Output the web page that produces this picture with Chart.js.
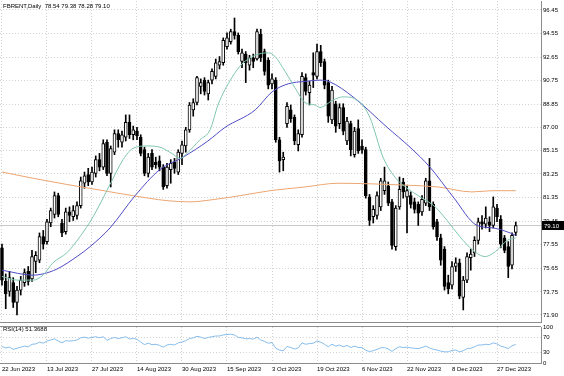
<!DOCTYPE html>
<html>
<head>
<meta charset="utf-8">
<title>FBRENT Daily</title>
<script src="https://cdn.jsdelivr.net/npm/chart.js@4.4.1/dist/chart.umd.min.js"></script>
<style>
  html, body { margin: 0; padding: 0; background: #fff; }
  #wrap { position: relative; width: 564px; height: 376px; overflow: hidden; }
  #priceBox { position: absolute; left: 0; top: 0; width: 564px; height: 323px; }
  #rsiBox { position: absolute; left: 0; top: 323px; width: 564px; height: 53px; }
  .cap { position: absolute; left: 3px; font: 6px "Liberation Sans", Arial, sans-serif; color: #000; white-space: pre; line-height: 7px; }
</style>
</head>
<body>
<div id="wrap">
  <div id="priceBox"><canvas id="priceChart"></canvas></div>
  <div id="rsiBox"><canvas id="rsiChart"></canvas></div>
  <div class="cap" style="top:3px">FBRENT,Daily  78.54 79.38 78.28 79.10</div>
  <div class="cap" style="top:326px">RSI(14) 51.3688</div>
</div>
<script>
// FBRENT daily candles, one entry per bar
const opens = [
  77.3, 74.6, 73.8, 74.5, 72.9, 73.9, 74.5, 75.4, 74.8, 76.2,
  76.3, 78.2, 77.8, 79.3, 80.0, 81.5, 79.3, 78.6, 80.2, 79.8,
  79.9, 80.7, 82.5, 83.2, 82.6, 83.3, 84.4, 83.8, 85.8, 83.3,
  85.0, 86.5, 85.8, 86.2, 87.4, 86.4, 86.7, 86.2, 85.2, 83.3,
  84.9, 84.2, 84.3, 83.8, 82.3, 83.6, 84.2, 83.4, 84.9, 85.5,
  86.8, 88.4, 89.0, 90.3, 90.8, 89.7, 90.8, 91.1, 92.0, 92.2,
  93.5, 93.9, 94.7, 94.4, 92.3, 92.9, 92.0, 92.6, 92.5, 94.5,
  93.1, 92.4, 90.5, 90.8, 86.0, 84.4, 87.3, 88.4, 87.8, 85.6,
  86.4, 91.0, 89.8, 91.4, 91.1, 93.1, 92.3, 90.6, 87.6, 88.9,
  87.3, 88.6, 85.9, 87.3, 84.8, 86.9, 85.5, 85.2, 81.4, 79.8,
  79.9, 80.6, 81.9, 82.3, 81.0, 77.4, 80.6, 82.6, 81.4, 81.5,
  81.0, 80.8, 80.2, 80.9, 82.7, 80.8, 79.4, 78.1, 77.2, 74.5,
  74.3, 75.8, 76.1, 73.3, 74.7, 76.5, 76.9, 77.9, 79.4, 79.2,
  79.4, 79.1, 80.5, 79.6, 78.1, 77.4, 75.9, 78.54
];
const highs = [
  77.6, 75.2, 75.4, 74.9, 74.2, 75.0, 75.6, 75.8, 77.1, 77.0,
  78.5, 78.7, 79.6, 80.5, 81.8, 81.7, 79.6, 80.5, 80.6, 80.7,
  81.0, 83.0, 83.4, 83.7, 83.8, 84.7, 84.9, 86.0, 86.0, 85.5,
  86.8, 86.8, 86.7, 88.0, 88.0, 87.1, 87.0, 86.4, 85.4, 84.9,
  85.2, 84.6, 84.7, 84.0, 84.1, 84.4, 84.5, 85.2, 85.9, 87.0,
  89.0, 89.3, 91.1, 90.9, 91.0, 90.8, 91.7, 92.5, 92.7, 94.2,
  94.6, 94.9, 95.8, 94.6, 93.3, 93.1, 92.8, 92.9, 94.9, 94.9,
  93.3, 92.6, 91.3, 91.0, 86.2, 85.0, 89.0, 88.8, 88.0, 86.8,
  91.4, 91.3, 90.7, 93.0, 93.7, 93.6, 92.5, 90.8, 90.3, 89.1,
  88.9, 88.9, 87.8, 87.5, 87.0, 87.6, 86.0, 85.4, 81.6, 80.7,
  81.8, 82.9, 83.8, 82.6, 81.2, 80.7, 83.0, 82.9, 82.3, 81.8,
  81.3, 81.0, 81.5, 82.9, 84.5, 81.0, 79.6, 78.4, 77.4, 75.1,
  76.2, 76.5, 76.4, 75.0, 76.9, 77.2, 78.2, 79.7, 79.9, 80.6,
  79.8, 81.4, 80.8, 79.9, 78.3, 77.8, 78.5, 79.38
];
const lows = [
  74.3, 72.4, 73.4, 72.5, 71.9, 73.5, 74.2, 74.3, 74.6, 75.3,
  76.1, 77.2, 77.6, 79.0, 79.7, 79.8, 78.2, 78.4, 79.4, 79.5,
  79.6, 80.5, 82.1, 82.3, 82.4, 83.0, 83.5, 83.6, 83.1, 82.2,
  84.8, 85.4, 85.4, 85.9, 86.1, 86.0, 86.0, 84.7, 83.1, 83.0,
  83.6, 83.7, 83.5, 82.0, 82.1, 82.5, 83.3, 83.2, 84.0, 85.0,
  86.6, 87.9, 88.8, 89.7, 89.6, 89.2, 90.5, 90.9, 91.7, 92.0,
  93.3, 93.7, 94.1, 92.9, 91.8, 90.6, 91.6, 91.8, 92.4, 92.3,
  91.2, 90.1, 90.1, 85.8, 83.4, 83.5, 87.0, 87.4, 85.6, 85.1,
  86.2, 89.6, 88.8, 90.2, 90.9, 91.9, 90.1, 87.4, 87.3, 86.6,
  86.9, 86.4, 85.6, 84.7, 84.6, 84.9, 84.9, 81.3, 79.1, 79.3,
  79.6, 80.3, 81.6, 80.7, 77.2, 77.1, 80.4, 81.3, 78.5, 80.5,
  80.1, 79.1, 79.9, 80.7, 80.3, 78.8, 77.9, 75.9, 73.9, 73.6,
  74.0, 75.4, 73.2, 72.3, 74.5, 75.5, 76.6, 77.6, 78.8, 78.9,
  78.6, 78.9, 79.4, 77.3, 76.9, 74.9, 75.6, 78.28
];
const closes = [
  74.7, 73.6, 74.9, 72.9, 73.9, 74.7, 75.3, 74.6, 76.6, 76.7,
  78.2, 77.6, 79.4, 80.3, 81.5, 80.0, 78.5, 80.2, 79.9, 80.3,
  80.7, 82.7, 83.1, 82.6, 83.4, 84.4, 83.8, 85.7, 83.3, 85.3,
  86.5, 86.0, 86.4, 87.4, 86.4, 86.8, 86.3, 84.9, 83.3, 84.6,
  83.8, 84.0, 83.8, 82.2, 83.8, 84.1, 83.7, 85.0, 85.6, 86.8,
  88.8, 89.0, 91.0, 90.6, 89.9, 90.6, 91.5, 92.2, 92.3, 94.0,
  94.2, 94.7, 94.4, 93.1, 93.0, 92.2, 92.6, 92.3, 94.7, 92.6,
  91.5, 90.4, 90.9, 86.0, 84.3, 84.6, 88.7, 87.7, 85.9, 86.5,
  91.1, 89.9, 90.4, 91.2, 93.1, 92.2, 90.4, 87.9, 90.0, 87.1,
  88.6, 86.7, 87.5, 85.2, 86.7, 85.1, 85.2, 81.5, 79.5, 80.4,
  81.5, 82.7, 82.7, 80.9, 77.5, 80.5, 82.0, 81.8, 81.9, 80.8,
  80.4, 80.1, 81.2, 82.7, 80.6, 79.0, 78.2, 76.3, 74.2, 74.0,
  75.8, 76.1, 73.4, 74.7, 76.6, 76.8, 77.9, 79.4, 79.2, 79.7,
  79.1, 80.6, 79.8, 77.6, 77.1, 75.8, 78.3, 79.10
];

// moving averages: [bar, price]
const maFast = [
  [0, 75.0], [4, 74.7], [8.3, 74.7], [10.9, 75.1], [13.6, 76.1], [17.3, 76.9],
  [20.8, 78.2], [24.3, 79.8], [28.8, 82.4], [32.3, 84.4], [34.9, 85.3], [38.7, 85.5],
  [42.1, 85.4], [45.3, 84.9], [47.5, 84.5], [49.3, 84.9], [52.8, 86.0], [55.5, 86.8],
  [57.6, 88.8], [61.3, 91.0], [64, 92.1], [67.5, 92.8], [71, 93.0], [72.8, 92.7],
  [75.5, 91.5], [78.1, 90.2], [80.8, 89.0], [83.5, 88.8], [84.8, 88.6], [88.3, 89.2],
  [90.9, 89.45], [94.7, 89.2], [98.1, 87.8], [101.6, 84.6], [105.3, 82.8], [108, 82.1],
  [111.5, 81.4], [115.5, 80.6], [118.7, 79.5], [122.1, 78.2], [125.6, 77.1], [128.8, 76.6],
  [132, 77.1], [134.7, 77.9], [137, 78.1]
];
const maMid = [
  [0, 75.5], [8.3, 75.1], [10.9, 75.2], [14.7, 75.6], [20, 76.6], [23.5, 77.4],
  [28.8, 78.9], [35.5, 81.5], [42.1, 83.6], [48.3, 84.6], [54.9, 85.9], [59.5, 87.0],
  [67.5, 88.4], [72, 89.85], [76.3, 90.5], [80.8, 90.7], [84.8, 90.8], [87.5, 90.65],
  [93.6, 89.45], [102.7, 87.0], [108.8, 85.4], [114.1, 83.8], [120.3, 81.4], [126.7, 79.1],
  [131, 78.9], [135.5, 78.5], [137, 78.3]
];
const maSlow = [
  [0, 83.4], [8.3, 82.9], [17.3, 82.4], [26.1, 81.95], [34.9, 81.5], [44, 81.1],
  [50.1, 81.0], [55.5, 81.15], [63.5, 81.5], [71.5, 81.9], [80.8, 82.2], [89.6, 82.5],
  [98.7, 82.45], [107.5, 82.35], [116.3, 82.2], [125.3, 81.8], [130.7, 81.9], [137, 81.9]
];

// RSI(14), one value per bar
const rsi14 = [
  46, 42, 44, 38, 41, 44, 47, 45, 52, 53,
  58, 55, 61, 64, 67, 61, 56, 62, 61, 62,
  64, 70, 72, 69, 71, 73, 70, 73, 63, 68,
  71, 68, 70, 73, 67, 68, 66, 58, 51, 55,
  51, 52, 49, 44, 50, 52, 50, 56, 58, 62,
  68, 70, 74, 72, 68, 71, 73, 75, 75, 78,
  79, 80, 78, 71, 70, 67, 68, 66, 72, 64,
  60, 55, 57, 41, 36, 34, 46, 43, 39, 42,
  56, 52, 54, 55, 61, 58, 52, 45, 52, 47,
  50, 45, 49, 43, 47, 43, 43, 35, 32, 34,
  38, 42, 43, 39, 32, 40, 45, 43, 44, 42,
  41, 40, 43, 47, 42, 38, 36, 33, 31, 31,
  35, 36, 31, 34, 40, 41, 45, 50, 50, 52,
  51, 56, 53, 47, 44, 40, 48, 51.37
];

const dateTicks = [0, 12, 24, 36, 48, 60, 72, 84, 96, 108, 120, 132];
const dateLabels = ['22 Jun 2023', '13 Jul 2023', '27 Jul 2023', '14 Aug 2023', '30 Aug 2023', '15 Sep 2023',
  '3 Oct 2023', '19 Oct 2023', '6 Nov 2023', '22 Nov 2023', '8 Dec 2023', '27 Dec 2023'];
const priceTicks = [96.45, 94.55, 92.65, 90.75, 88.85, 87.00, 85.15, 83.25, 81.35, 79.45, 77.55, 75.65, 73.75, 71.90];
const rsiTicks = [100, 70, 30, 0];
const lastPrice = 79.10;

// view window (bars and prices), empty shift on the right like MT4
const xMin = -0.53, xMax = 143.73;
const yMin = 71.33, yMax = 97.17;

const gridColor = '#d2d2d2';
const frameColor = '#8c8c8c';
const axisFont = { family: '"Liberation Sans", Arial, sans-serif', size: 6 };

const barIdx = opens.map((o, i) => i);
const wickData = barIdx.map(i => ({ x: i, y: [lows[i], highs[i]] }));
const bodyData = barIdx.map(i => ({ x: i, y: [opens[i], closes[i]] }));
const bodyFill = barIdx.map(i => closes[i] >= opens[i] ? '#ffffff' : '#000000');
const toXY = arr => arr.map(p => ({ x: p[0], y: p[1] }));

const dateAxis = (showLabels) => ({
    type: 'linear',
    min: xMin,
    max: xMax,
    offset: false,
    afterBuildTicks: s => { s.ticks = dateTicks.map(v => ({ value: v })); },
    afterFit: s => {
        s.height = showLabels ? 13 : 0;
        s.paddingLeft = 0;
        s.paddingRight = 0;
    },
    ticks: {
        display: showLabels,
        align: 'start',
        maxRotation: 0,
        autoSkip: false,
        padding: 3,
        color: '#000',
        font: axisFont,
        callback: v => dateLabels[dateTicks.indexOf(v)]
    },
    grid: { offset: false, color: gridColor, drawTicks: false },
    border: { display: true, color: frameColor, dash: [1, 2] }
});

// black price tag for the last close on the right scale
const priceTag = {
    id: 'priceTag',
    afterDraw(chart) {
        const { ctx, chartArea, scales } = chart;
        const py = scales.y.getPixelForValue(lastPrice);
        ctx.save();
        ctx.fillStyle = '#000';
        ctx.fillRect(chartArea.right + 1, py - 4.5, 22, 9);
        ctx.fillStyle = '#fff';
        ctx.font = '6px "Liberation Sans", Arial, sans-serif';
        ctx.textBaseline = 'middle';
        ctx.fillText(lastPrice.toFixed(2), chartArea.right + 3, py + 0.5);
        ctx.restore();
    }
};

// separator line on top of the RSI window
const topBorder = {
    id: 'topBorder',
    afterDraw(chart) {
        const { ctx, chartArea } = chart;
        const y = Math.round(chartArea.top) - 0.5;
        ctx.save();
        ctx.strokeStyle = frameColor;
        ctx.lineWidth = 1;
        ctx.beginPath();
        ctx.moveTo(chartArea.left, y);
        ctx.lineTo(chartArea.right, y);
        ctx.stroke();
        ctx.restore();
    }
};

new Chart(document.getElementById('priceChart'), {
    type: 'bar',
    data: {
        datasets: [
            { type: 'line', data: toXY(maFast), borderColor: '#7fc6b1', borderWidth: 1, pointRadius: 0, cubicInterpolationMode: 'monotone', order: 0 },
            { type: 'line', data: toXY(maMid), borderColor: '#4f4cc4', borderWidth: 1, pointRadius: 0, cubicInterpolationMode: 'monotone', order: 0 },
            { type: 'line', data: toXY(maSlow), borderColor: '#eca672', borderWidth: 1, pointRadius: 0, cubicInterpolationMode: 'monotone', order: 0 },
            {
                data: bodyData, backgroundColor: bodyFill, borderColor: '#000', borderWidth: 1,
                borderSkipped: false, barThickness: 3, grouped: false, order: 1
            },
            { data: wickData, backgroundColor: '#000', borderWidth: 0, barThickness: 1, grouped: false, order: 2 },
            {
                type: 'line', data: [{ x: xMin, y: lastPrice }, { x: xMax, y: lastPrice }],
                borderColor: '#c8c8c8', borderWidth: 1, pointRadius: 0, order: 3
            }
        ]
    },
    options: {
        responsive: true,
        maintainAspectRatio: false,
        animation: false,
        devicePixelRatio: 1,
        layout: { padding: { top: 1, bottom: 1, left: 0, right: 0 } },
        plugins: { legend: { display: false }, tooltip: { enabled: false } },
        scales: {
            x: dateAxis(false),
            y: {
                position: 'right',
                min: yMin,
                max: yMax,
                beginAtZero: false,
                afterBuildTicks: s => { s.ticks = priceTicks.map(v => ({ value: v })); },
                afterFit: s => { s.width = 23; s.paddingTop = 0; s.paddingBottom = 0; },
                ticks: { padding: 2, color: '#000', font: axisFont, callback: v => v.toFixed(2) },
                grid: { color: gridColor, drawTicks: false },
                border: { display: true, color: frameColor, dash: [1, 2] }
            }
        }
    },
    plugins: [priceTag]
});

new Chart(document.getElementById('rsiChart'), {
    type: 'line',
    data: {
        datasets: [{
            data: rsi14.map((v, i) => ({ x: i, y: v })),
            borderColor: '#86bdec', borderWidth: 1, pointRadius: 0, tension: 0
        }]
    },
    options: {
        responsive: true,
        maintainAspectRatio: false,
        animation: false,
        devicePixelRatio: 1,
        layout: { padding: { top: 4, bottom: 0, left: 0, right: 0 } },
        plugins: { legend: { display: false }, tooltip: { enabled: false } },
        scales: {
            x: dateAxis(true),
            y: {
                position: 'right',
                min: 0,
                max: 100,
                afterBuildTicks: s => { s.ticks = rsiTicks.map(v => ({ value: v })); },
                afterFit: s => { s.width = 23; s.paddingTop = 0; s.paddingBottom = 0; },
                ticks: { padding: 2, color: '#000', font: axisFont },
                grid: {
                    drawTicks: false,
                    color: c => (c.tick && (c.tick.value === 30 || c.tick.value === 70)) ? gridColor : 'rgba(0,0,0,0)'
                },
                border: { display: true, color: frameColor, dash: [1, 2] }
            }
        }
    },
    plugins: [topBorder]
});
</script>
</body>
</html>
